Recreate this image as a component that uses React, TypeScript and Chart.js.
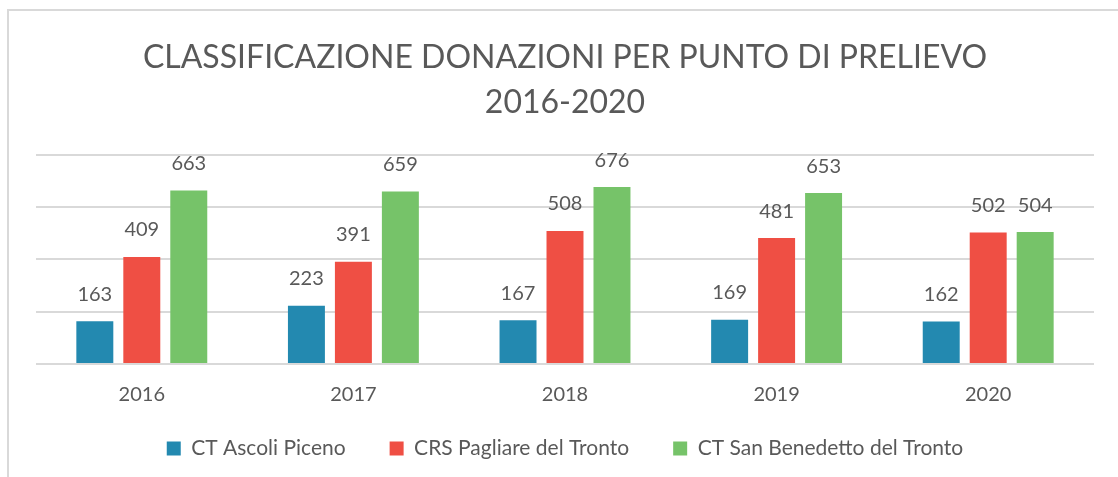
import React, { useEffect, useRef } from "react";
import { Chart, registerables } from "chart.js";

Chart.register(...registerables);

const categories = ["2016", "2017", "2018", "2019", "2020"];
const seriesNames = ["CT Ascoli Piceno", "CRS Pagliare del Tronto", "CT San Benedetto del Tronto"];
const ascoli = [163, 223, 167, 169, 162];
const pagliare = [409, 391, 508, 481, 502];
const sanBenedetto = [663, 659, 676, 653, 504];
const titleLines = ["CLASSIFICAZIONE DONAZIONI PER PUNTO DI PRELIEVO", "2016-2020"];

const FONT = "Lato, 'Open Sans', sans-serif";
const TEXT = "#595959";

const labelPlugin = {
  id: "valueLabels",
  afterDatasetsDraw(chart: any) {
    const ctx = chart.ctx;
    ctx.save();
    ctx.font = `20px ${FONT}`;
    ctx.fillStyle = TEXT;
    ctx.textAlign = "center";
    ctx.textBaseline = "middle";
    chart.data.datasets.forEach((ds: any, i: number) => {
      const meta = chart.getDatasetMeta(i);
      meta.data.forEach((bar: any, j: number) => {
        ctx.fillText(String(ds.data[j]), bar.x, bar.y - 27);
      });
    });
    ctx.restore();
  },
};

const frameAndClipPlugin = {
  id: "frame",
  afterLayout(chart: any) {
    // let x tick labels overflow into the (empty) upper part of the legend box
    chart.scales.x.bottom += 40;
  },
  beforeDraw(chart: any) {
    const ctx = chart.ctx;
    ctx.save();
    ctx.fillStyle = "#ffffff";
    ctx.fillRect(0, 0, chart.width, chart.height);
    ctx.strokeStyle = "#d9d9d9";
    ctx.lineWidth = 2;
    ctx.beginPath();
    ctx.moveTo(8, chart.height + 5);
    ctx.lineTo(8, 10);
    ctx.lineTo(chart.width + 5, 10);
    ctx.stroke();
    ctx.restore();
  },
};

export default function App() {
  const ref = useRef<HTMLCanvasElement | null>(null);
  useEffect(() => {
    document.body.style.margin = "0";
    const chart = new Chart(ref.current!, {
      type: "bar",
      data: {
        labels: categories,
        datasets: [
          { label: seriesNames[0], data: ascoli, backgroundColor: "#2389b0" },
          { label: seriesNames[1], data: pagliare, backgroundColor: "#ef4f44" },
          { label: seriesNames[2], data: sanBenedetto, backgroundColor: "#76c369" },
        ],
      },
      options: {
        animation: false,
        responsive: false,
        maintainAspectRatio: false,
        layout: { padding: { left: 36, right: 24, top: 35, bottom: 8 } },
        datasets: {
          bar: { categoryPercentage: 0.666, barPercentage: 0.787 },
        },
        scales: {
          x: {
            grid: { display: false },
            border: { display: false },
            ticks: { color: TEXT, font: { family: FONT, size: 20 }, padding: 11 },
            afterFit: (scale: any) => {
              scale.height = scale.height - 24;
            },
          },
          y: {
            min: 0,
            max: 800,
            ticks: { display: false, stepSize: 200 },
            border: { display: false },
            grid: { color: "#d9d9d9", lineWidth: 2, drawTicks: false },
          },
        },
        plugins: {
          title: {
            display: true,
            text: titleLines,
            color: TEXT,
            font: { family: FONT, size: 32, weight: "normal", lineHeight: 1.4 },
            padding: { top: 0, bottom: 30 },
          },
          legend: {
            position: "bottom",
            labels: {
              color: TEXT,
              font: { family: FONT, size: 21 },
              boxWidth: 14,
              boxHeight: 14,
              padding: 44,
            },
          },
          tooltip: { enabled: false },
        },
      },
      plugins: [frameAndClipPlugin, labelPlugin],
    });
    return () => chart.destroy();
  }, []);
  return (
    <div style={{ width: 1118, height: 477 }}>
      <canvas ref={ref} width={1118} height={477} style={{ display: "block" }} />
    </div>
  );
}
